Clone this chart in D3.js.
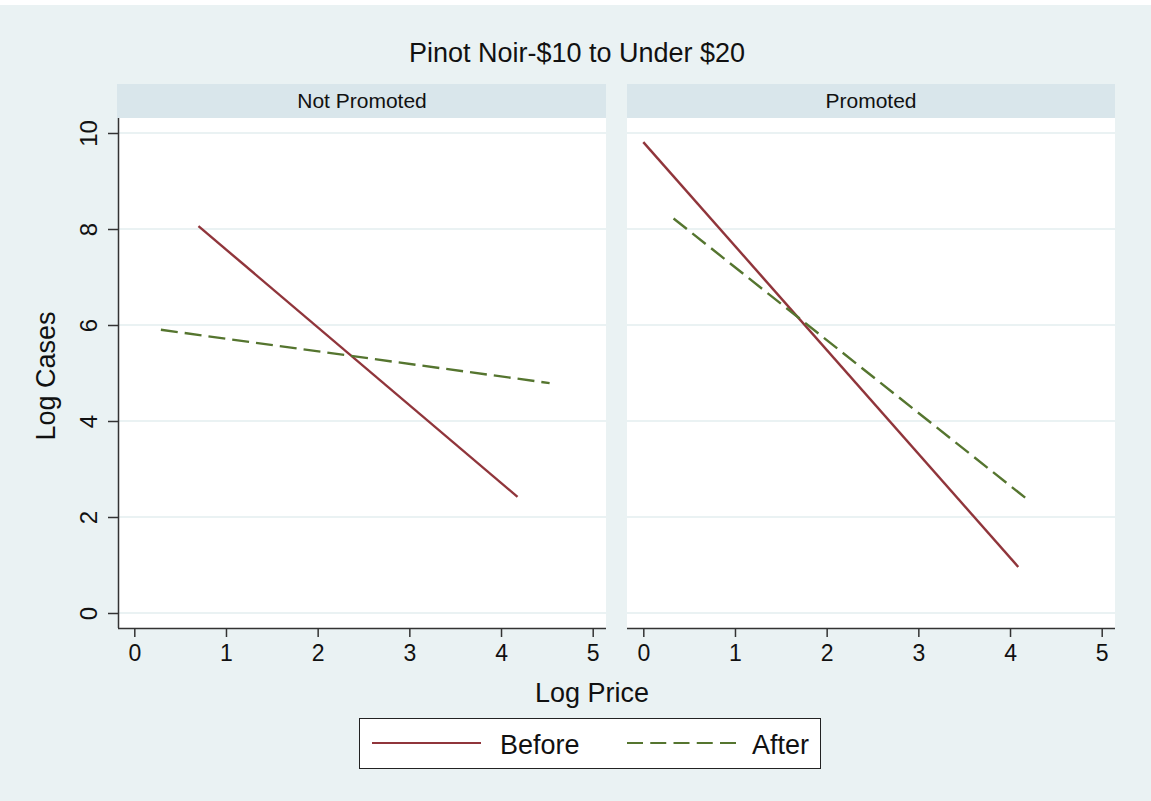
<!DOCTYPE html>
<html>
<head>
<meta charset="utf-8">
<script src="https://cdn.jsdelivr.net/npm/d3@7"></script>
<style>
  body { margin: 0; background: #fff; }
  svg { display: block; font-family: "Liberation Sans", Arial, sans-serif; }
</style>
</head>
<body>
<div id="chart"></div>
<script>
// data
const title = 'Pinot Noir-$10 to Under $20';
const panels = ['Not Promoted', 'Promoted'];
const seriesNames = ['Before', 'After'];
const xTicks = [0, 1, 2, 3, 4, 5];
const yTicks = [0, 2, 4, 6, 8, 10];
// [logPrice, logCases] end points of each fitted line
const beforeNotPromoted = [[0.70, 8.06], [4.18, 2.42]];
const afterNotPromoted = [[0.29, 5.90], [4.53, 4.79]];
const beforePromoted = [[0.00, 9.81], [4.09, 0.96]];
const afterPromoted = [[0.33, 8.22], [4.20, 2.35]];

const lines = [
  { panel: 0, series: 0, values: beforeNotPromoted },
  { panel: 0, series: 1, values: afterNotPromoted },
  { panel: 1, series: 0, values: beforePromoted },
  { panel: 1, series: 1, values: afterPromoted }
];

const width = 1151;
const height = 801;
const bg = '#eaf2f3';
const stripFill = '#d9e6eb';
const colors = ['#90353b', '#55752f'];
const dashes = [null, '17,7'];

// panel boxes
const panelLeft = [118, 627];
const panelWidth = 488;
const plotTop = 118;
const plotBottom = 628;
const stripTop = 84;

const $svg = d3.select('#chart').append('svg')
  .attr('width', width)
  .attr('height', height);

$svg.append('rect')
  .attr('width', width)
  .attr('height', height)
  .attr('fill', bg);

// white strip at the very top
$svg.append('rect')
  .attr('width', width)
  .attr('height', 5)
  .attr('fill', '#fff');

$svg.append('text')
  .attr('x', 577)
  .attr('y', 62)
  .attr('text-anchor', 'middle')
  .attr('font-size', 27)
  .attr('fill', '#111')
  .text(title);

const scaleY = d3.scaleLinear()
  .domain([0, 10])
  .range([613, 133]);

const line = d3.line();

panels.forEach((name, i) => {
  const x0 = panelLeft[i];
  const scaleX = d3.scaleLinear()
    .domain([0, 5])
    .range([x0 + 16.3, x0 + 474.7]);

  const $g = $svg.append('g').attr('class', 'panel');

  $g.append('rect')
    .attr('x', x0 - (i === 0 ? 1 : 0))
    .attr('y', stripTop)
    .attr('width', panelWidth + (i === 0 ? 1 : 0))
    .attr('height', plotTop - stripTop)
    .attr('fill', stripFill);

  $g.append('text')
    .attr('x', x0 + panelWidth / 2)
    .attr('y', 108)
    .attr('text-anchor', 'middle')
    .attr('font-size', 21)
    .attr('fill', '#111')
    .text(name);

  $g.append('rect')
    .attr('x', x0)
    .attr('y', plotTop)
    .attr('width', panelWidth)
    .attr('height', plotBottom - plotTop)
    .attr('fill', '#fff');

  // grid
  $g.selectAll('.grid')
    .data(yTicks)
    .enter()
    .append('line')
    .attr('class', 'grid')
    .attr('x1', x0)
    .attr('x2', x0 + panelWidth)
    .attr('y1', d => scaleY(d))
    .attr('y2', d => scaleY(d))
    .attr('stroke', bg)
    .attr('stroke-width', 2);

  // x axis
  const $xAxis = $g.append('g')
    .attr('transform', `translate(0, ${plotBottom})`)
    .call(d3.axisBottom(scaleX).tickValues(xTicks).tickSize(9).tickPadding(8).tickFormat(d3.format('d')));
  $xAxis.select('.domain')
    .attr('d', `M${x0},0.5H${x0 + panelWidth}`)
    .attr('stroke', '#333')
    .attr('stroke-width', 1.5);
  $xAxis.selectAll('.tick line').attr('stroke', '#333').attr('stroke-width', 1.5);
  $xAxis.selectAll('.tick text')
    .attr('font-size', 23)
    .attr('fill', '#111')
    .attr('font-family', '"Liberation Sans", Arial, sans-serif');

  // fitted lines
  $g.selectAll('.fit')
    .data(lines.filter(d => d.panel === i))
    .enter()
    .append('path')
    .attr('class', 'fit')
    .attr('d', d => line(d.values.map(p => [scaleX(p[0]), scaleY(p[1])])))
    .attr('fill', 'none')
    .attr('stroke', d => colors[d.series])
    .attr('stroke-width', 2.4)
    .attr('stroke-dasharray', d => dashes[d.series]);
});

// y axis on the left panel only
const $yAxis = $svg.append('g')
  .attr('transform', `translate(${panelLeft[0]}, 0)`)
  .call(d3.axisLeft(scaleY).tickValues(yTicks).tickSize(10).tickFormat(d3.format('d')));
$yAxis.select('.domain')
  .attr('d', `M0.5,${plotTop}V${plotBottom}`)
  .attr('stroke', '#333')
  .attr('stroke-width', 1.5);
$yAxis.selectAll('.tick line').attr('stroke', '#333').attr('stroke-width', 1.5);
$yAxis.selectAll('.tick text')
  .attr('x', null)
  .attr('dy', null)
  .attr('transform', 'translate(-21, 0) rotate(-90)')
  .attr('text-anchor', 'middle')
  .attr('font-size', 24)
  .attr('fill', '#111')
  .attr('font-family', '"Liberation Sans", Arial, sans-serif');

// axis titles
$svg.append('text')
  .attr('transform', 'translate(55, 376) rotate(-90)')
  .attr('text-anchor', 'middle')
  .attr('font-size', 27)
  .attr('fill', '#111')
  .text('Log Cases');

$svg.append('text')
  .attr('x', 592)
  .attr('y', 702)
  .attr('text-anchor', 'middle')
  .attr('font-size', 27)
  .attr('fill', '#111')
  .text('Log Price');

// legend
const $legend = $svg.append('g').attr('class', 'legend');
$legend.append('rect')
  .attr('x', 359.5)
  .attr('y', 718.5)
  .attr('width', 461)
  .attr('height', 50)
  .attr('fill', '#fff')
  .attr('stroke', '#222')
  .attr('stroke-width', 1);

const legendX = [372, 627];
const $item = $legend.selectAll('.item')
  .data(seriesNames)
  .enter()
  .append('g')
  .attr('class', 'item')
  .attr('transform', (d, i) => `translate(${legendX[i]}, 743)`);

$item.append('line')
  .attr('x1', 0)
  .attr('x2', 109)
  .attr('stroke', (d, i) => colors[i])
  .attr('stroke-width', 2)
  .attr('stroke-dasharray', (d, i) => i === 1 ? '16,7.25' : null);

$item.append('text')
  .attr('x', (d, i) => i === 0 ? 128 : 125)
  .attr('y', 11)
  .attr('font-size', 27)
  .attr('fill', '#111')
  .text(d => d);
</script>
</body>
</html>
